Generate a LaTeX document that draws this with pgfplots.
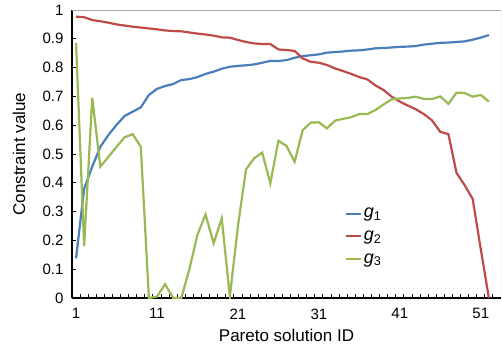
\documentclass[border=0pt]{standalone}
\usepackage{fontspec}
\setmainfont{Liberation Sans}
\usepackage{pgfplots}
\usepackage{pgfplotstable}
\pgfplotsset{compat=1.18}
\definecolor{cblue}{HTML}{4A7EBB}
\definecolor{cred}{HTML}{BE4B48}
\definecolor{cgreen}{HTML}{98B954}
\pgfplotstableread{
x g1 g2 g3
1 0.138 0.977 0.886
2 0.379 0.975 0.180
3 0.456 0.965 0.695
4 0.525 0.961 0.456
5 0.566 0.956 0.490
6 0.601 0.950 0.525
7 0.632 0.946 0.558
8 0.647 0.942 0.569
9 0.662 0.939 0.525
10 0.705 0.936 0.000
11 0.726 0.933 0.005
12 0.736 0.929 0.048
13 0.743 0.927 0.000
14 0.757 0.926 0.000
15 0.760 0.922 0.100
16 0.767 0.918 0.220
17 0.778 0.915 0.290
18 0.786 0.911 0.190
19 0.796 0.905 0.277
20 0.803 0.904 0.005
21 0.806 0.896 0.250
22 0.808 0.889 0.447
23 0.811 0.884 0.485
24 0.817 0.882 0.505
25 0.823 0.882 0.398
26 0.823 0.863 0.546
27 0.826 0.861 0.528
28 0.834 0.858 0.473
29 0.840 0.832 0.583
30 0.843 0.820 0.609
31 0.846 0.817 0.610
32 0.852 0.809 0.589
33 0.854 0.797 0.616
34 0.856 0.788 0.622
35 0.859 0.778 0.628
36 0.860 0.767 0.639
37 0.863 0.759 0.639
38 0.867 0.738 0.653
39 0.868 0.722 0.672
40 0.870 0.699 0.690
41 0.872 0.682 0.693
42 0.873 0.668 0.695
43 0.875 0.655 0.699
44 0.880 0.638 0.691
45 0.883 0.616 0.691
46 0.886 0.577 0.700
47 0.887 0.569 0.674
48 0.889 0.435 0.713
49 0.891 0.392 0.712
50 0.897 0.344 0.699
51 0.904 0.170 0.705
52 0.913 0.000 0.682
}\datatable
\begin{document}
\begin{tikzpicture}
\begin{axis}[
  name=ax,
  scale only axis,
  width=429pt, height=288pt,
  xmin=0.5, xmax=53.5, ymin=0, ymax=1,
  axis x line*=bottom, axis y line*=left,
  axis line style={black, line width=1.1pt},
  xtick={1,11,...,51},
  minor xtick={1.5,2.5,...,52.5},
  ytick={0,0.1,...,1},
  yticklabels={0,0.1,0.2,0.3,0.4,0.5,0.6,0.7,0.8,0.9,1},
  tick align=inside,
  major tick length=4pt, minor tick length=4pt,
  tick style={black, line width=0.9pt},
  major x tick style={draw=none},
  /pgf/number format/assume math mode=true,
  tick label style={font=\fontsize{15}{18}\selectfont},
  yticklabel style={xshift=-5pt},
  xticklabel style={yshift=-7pt},
  xlabel={Pareto solution ID},
  ylabel={Constraint value},
  every axis x label/.style={at={(axis description cs:0.5,0)}, yshift=-37pt, anchor=center, font=\fontsize{17}{20}\selectfont},
  every axis y label/.style={at={(axis description cs:0,0.5)}, xshift=-53pt, rotate=90, anchor=center, font=\fontsize{17}{20}\selectfont},
  legend style={at={(rel axis cs:0.635,0.32)}, anchor=north west, draw=none, fill=none,
    font=\fontsize{18}{21}\selectfont, row sep=7.5pt, inner sep=0pt},
  legend cell align=left,
  legend image code/.code={\draw[#1, line width=2.2pt] (0pt,0pt) -- (15pt,0pt);},
]
\addplot[cblue, line width=2.2pt] table[x=x, y=g1] {\datatable};
\addplot[cred, line width=2.2pt] table[x=x, y=g2] {\datatable};
\addplot[cgreen, line width=2.2pt] table[x=x, y=g3] {\datatable};
\legend{\textit{g}\textsubscript{1}, \textit{g}\textsubscript{2}, \textit{g}\textsubscript{3}}
\draw[gray!70, line width=0.9pt] (rel axis cs:0,1) -- (rel axis cs:1,1) -- (rel axis cs:1,0);
\end{axis}
\pgfresetboundingbox
\useasboundingbox (-72pt,-51pt) rectangle (430pt,298pt);
\end{tikzpicture}
\end{document}
